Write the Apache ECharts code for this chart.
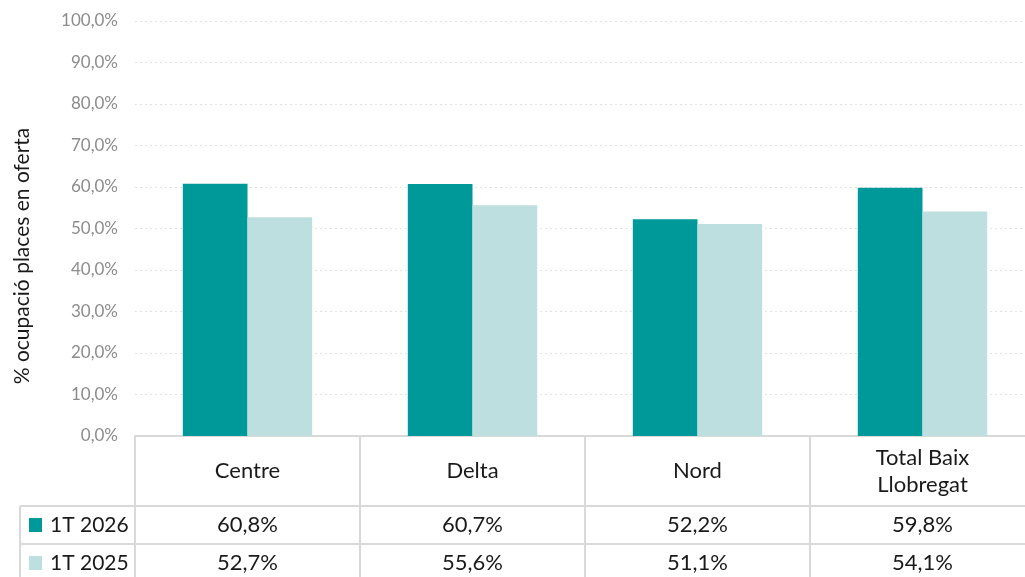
<!DOCTYPE html>
<html>
<head>
<meta charset="utf-8">
<script src="https://cdn.jsdelivr.net/npm/echarts@6/dist/echarts.min.js"></script>
<style>
  html, body { margin: 0; padding: 0; background: #fff; overflow: hidden; }
  #chart { width: 1025px; height: 577px; }
</style>
</head>
<body>
<div id="chart"></div>
<script>
const categories = ["Centre", "Delta", "Nord", "Total Baix\nLlobregat"];
const seriesNames = ["1T 2026", "1T 2025"];
const values2026 = [60.8, 60.7, 52.2, 59.8];
const values2025 = [52.7, 55.6, 51.1, 54.1];
const yTitle = "% ocupació places en oferta";
const colors = ["#009999", "#bddfdf"];

const font = "Lato, 'Open Sans', sans-serif";
const lineColor = "#d9d9d9";
const textColor = "#1a1a1a";
const fmt = (v) => v.toFixed(1).replace(".", ",") + "%";

const chart = echarts.init(document.getElementById("chart"), null, { renderer: "canvas" });

// the reference crops the right edge of the chart a little
const grid = { left: 135, width: 900, top: 21, bottom: 141, outerBoundsMode: "none", containLabel: false };

chart.setOption({
  animation: false,
  color: colors,
  textStyle: { fontFamily: font },
  grid: grid,
  xAxis: {
    type: "category",
    data: categories,
    axisLine: { lineStyle: { color: lineColor, width: 2 } },
    axisTick: { show: true, interval: 0, length: 141, lineStyle: { color: lineColor, width: 2 } },
    axisLabel: {
      interval: 0,
      margin: 35,
      verticalAlign: "middle",
      color: textColor,
      fontSize: 22,
      lineHeight: 27,
      fontFamily: font
    }
  },
  yAxis: {
    type: "value",
    min: 0,
    max: 100,
    interval: 10,
    axisLine: { show: false },
    axisTick: { show: false },
    axisLabel: { color: "#8c8c8c", fontSize: 17, margin: 17, formatter: fmt, fontFamily: font },
    splitLine: { lineStyle: { color: "#e3e3e3", type: [2, 3], width: 1 } }
  },
  series: [
    { name: seriesNames[0], type: "bar", data: values2026, barGap: 0, barCategoryGap: "42.5%" },
    { name: seriesNames[1], type: "bar", data: values2025, barGap: 0, barCategoryGap: "42.5%" }
  ]
});

function drawTable() {
  const rows = [values2026, values2025];
  const rowTops = [506, 544];
  const rowH = 38;
  const left = 20;
  const right = 1035;
  const els = [];
  els.push({
    type: "text", x: 22, y: 256, rotation: Math.PI / 2,
    style: { text: yTitle, fontSize: 21, fontFamily: font, fill: textColor, align: "center", verticalAlign: "middle" }
  });
  rowTops.forEach((y) => {
    els.push({ type: "line", shape: { x1: left, y1: y, x2: right, y2: y }, style: { stroke: lineColor, lineWidth: 2 } });
  });
  els.push({ type: "line", shape: { x1: left, y1: rowTops[0], x2: left, y2: 577 }, style: { stroke: lineColor, lineWidth: 2 } });
  rows.forEach((vals, r) => {
    const cy = rowTops[r] + rowH / 2;
    els.push({ type: "rect", shape: { x: 29, y: cy - 7, width: 13, height: 14 }, style: { fill: colors[r] } });
    els.push({
      type: "text", x: 50, y: cy,
      style: { text: seriesNames[r], fontSize: 21, fontFamily: font, fill: textColor, verticalAlign: "middle", align: "left" }
    });
    vals.forEach((v, i) => {
      const x = chart.convertToPixel({ xAxisIndex: 0 }, i);
      els.push({
        type: "text", x: x, y: cy,
        style: { text: fmt(v), fontSize: 22, fontFamily: font, fill: textColor, verticalAlign: "middle", align: "center" }
      });
    });
  });
  chart.setOption({ graphic: els });
}
drawTable();
</script>
</body>
</html>
